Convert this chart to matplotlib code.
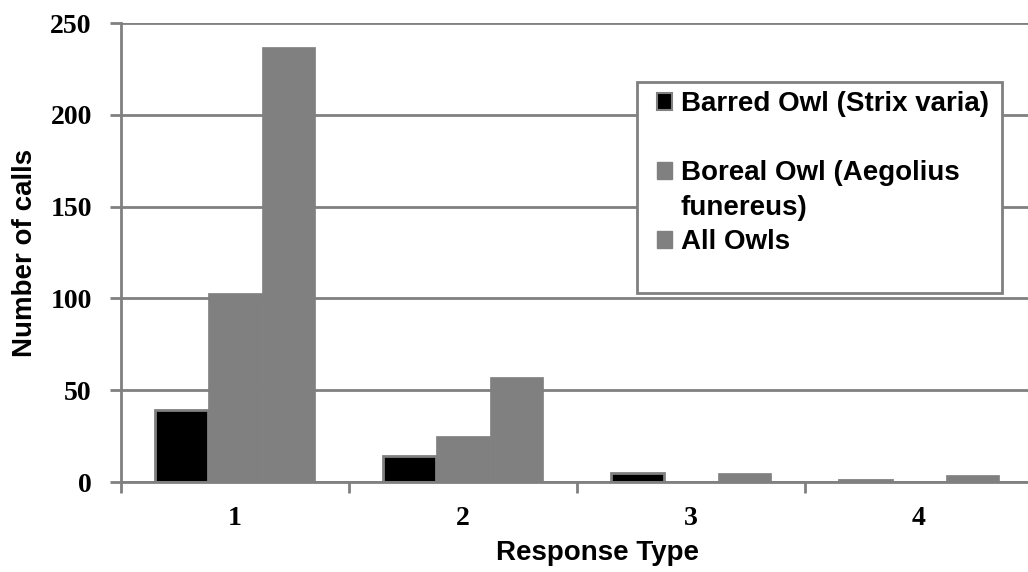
import numpy as np
import matplotlib
matplotlib.use('Agg')
import matplotlib.pyplot as plt
from matplotlib.patches import Patch, Rectangle

# data
response_types = ['1', '2', '3', '4']
barred = [39, 14, 5, 1]
boreal = [103, 25, 0, 0]
all_owls = [237, 57, 5, 4]
labels = ['Barred Owl (Strix varia)', 'Boreal Owl (Aegolius', 'funereus)', 'All Owls']

grey = '#808080'
fig = plt.figure(figsize=(10.28, 5.72), dpi=100)
L, R, T, B = 121, 1033, 23, 482
ax = fig.add_axes([L/1028, 1-B/572, (R-L)/1028, (B-T)/572])
W, H = R - L, B - T

x = np.arange(len(response_types))
w = 0.233
ax.bar(x - w, barred, w, color='black', edgecolor=grey, linewidth=2, zorder=3)
ax.bar(x, boreal, w, color=grey, edgecolor=grey, linewidth=0.5, zorder=3)
ax.bar(x + w, all_owls, w, color=grey, edgecolor=grey, linewidth=0.5, zorder=3)

ax.set_xlim(-0.5, 3.5)
ax.set_ylim(0, 250)
ax.set_yticks(np.arange(0, 251, 50))
ax.set_xticks(x)
ax.set_xticklabels(response_types)
ax.set_xticks(np.arange(-0.5, 3.6, 1), minor=True)
ax.tick_params(axis='x', which='major', length=0, pad=17)
ax.tick_params(axis='x', which='minor', length=8, width=2, color=grey, direction='out')
ax.tick_params(axis='y', length=8, width=2, color=grey, direction='out', pad=13)
for lab in ax.get_xticklabels() + ax.get_yticklabels():
    lab.set_fontfamily('Liberation Serif')
    lab.set_fontweight('bold')
    lab.set_fontsize(20)

ax.yaxis.grid(True, color=grey, linewidth=2, zorder=0)
ax.set_axisbelow(True)
for s in ['top', 'right']:
    ax.spines[s].set_visible(False)
for s in ['left', 'bottom']:
    ax.spines[s].set_color(grey)
    ax.spines[s].set_linewidth(2)
ax.spines['bottom'].set_zorder(4)

ax.set_ylabel('Number of calls', fontfamily='Liberation Sans', fontweight='bold', fontsize=20)
ax.yaxis.set_label_coords((38-L)/W, 0.5)
ax.set_xlabel('Response Type', fontfamily='Liberation Sans', fontweight='bold', fontsize=20)
ax.xaxis.set_label_coords((598-L)/W, -(540-B)/H)

# legend box (fixed size, like the spreadsheet one)
ax.add_patch(Rectangle(((637-L)/W, (B-293)/H), (1002-637)/W, (293-82)/H,
                       transform=ax.transAxes, facecolor='white', edgecolor=grey,
                       linewidth=2, zorder=5, clip_on=False))
blank = Patch(facecolor='none', edgecolor='none')
handles = [Patch(facecolor='black', edgecolor=grey, linewidth=1.5), blank,
           Patch(facecolor=grey, edgecolor=grey), blank,
           Patch(facecolor=grey, edgecolor=grey)]
leg = ax.legend(handles, [labels[0], ' ', labels[1], labels[2], labels[3]], loc='upper left',
                bbox_to_anchor=((657-L)/W, 1-(91-T)/H),
                prop={'family': 'Liberation Sans', 'weight': 'bold', 'size': 20},
                frameon=False, handlelength=0.55, handleheight=0.55, handletextpad=0.3,
                labelspacing=0.31, borderpad=0, borderaxespad=0)
leg.set_zorder(6)

fig.savefig('out.png', dpi=100)
